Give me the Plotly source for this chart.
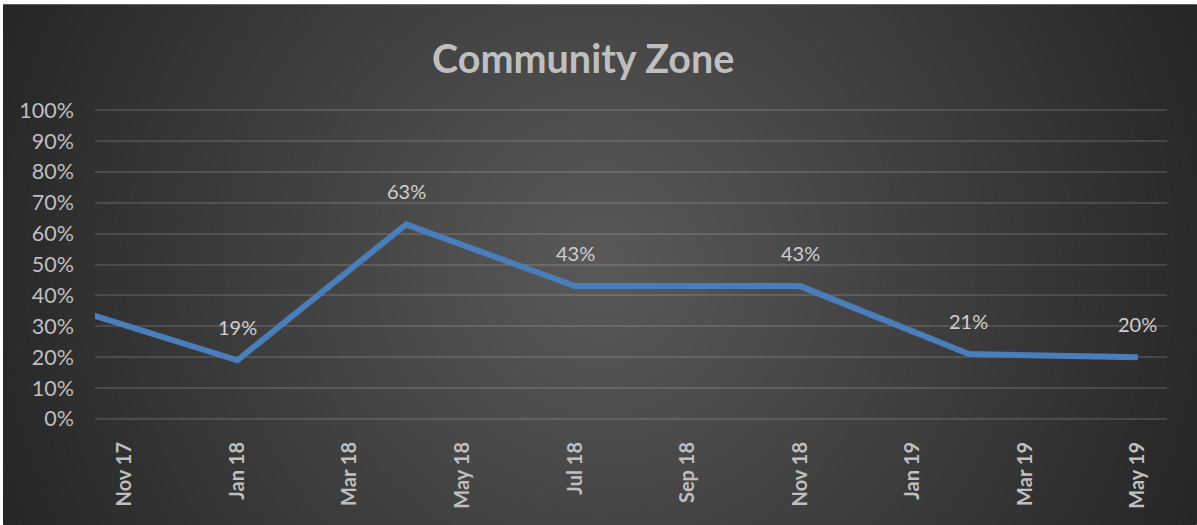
import plotly.graph_objects as go

# ---- data ----
months = ["2017-10", "2018-01", "2018-04", "2018-07", "2018-11", "2019-02", "2019-05"]
values = [0.36, 0.19, 0.63, 0.43, 0.43, 0.21, 0.20]
tick_months = ["2017-11", "2018-01", "2018-03", "2018-05", "2018-07", "2018-09",
               "2018-11", "2019-01", "2019-03", "2019-05"]
tick_labels = ["Nov 17", "Jan 18", "Mar 18", "May 18", "Jul 18", "Sep 18",
               "Nov 18", "Jan 19", "Mar 19", "May 19"]
y_ticks = [i / 10 for i in range(11)]
y_tick_labels = [f"{i * 10}%" for i in range(11)]
title_text = "Community Zone"


def month_index(s):
    y, m = s.split("-")
    return (int(y) - 2017) * 12 + int(m) - 11


x = [month_index(m) for m in months]
tickvals = [month_index(m) for m in tick_months]
x_range = [-0.53, 18.52]

W, H = 1197, 525
EXT = 0.01                      # small y-range padding so 0% / 100% grid lines show
UNIT = 309                      # pixels for 0..100%
L, R = 95, 30
T = 110 - UNIT * EXT
B = 106 - UNIT * EXT
PW, PH = W - L - R, H - T - B


def px2paper_x(px):
    return (px - L) / PW


def px2paper_y(py):
    return 1 - (py - T) / PH


# ---- background: radial gradient approximated by stacked circles ----
shapes = []
cx, cy = 600, 264.5
rmax = 651
N = 52
for i in range(N):
    frac = 1 - i / N
    r = rmax * frac
    g = int(round(90 - 52 * frac))
    col = f"rgb({g},{g},{g})"
    shapes.append(dict(type="circle", xref="paper", yref="paper",
                       x0=px2paper_x(cx - r), x1=px2paper_x(cx + r),
                       y0=px2paper_y(cy + r), y1=px2paper_y(cy - r),
                       fillcolor=col, line=dict(width=0), layer="below"))
# white outer strips (top and left)
shapes.append(dict(type="rect", xref="paper", yref="paper",
                   x0=px2paper_x(-5), x1=px2paper_x(W + 5),
                   y0=px2paper_y(4), y1=px2paper_y(-5),
                   fillcolor="white", line=dict(width=0), layer="below"))
shapes.append(dict(type="rect", xref="paper", yref="paper",
                   x0=px2paper_x(-5), x1=px2paper_x(3),
                   y0=px2paper_y(H + 5), y1=px2paper_y(-5),
                   fillcolor="white", line=dict(width=0), layer="below"))

FONT = "Lato, 'Open Sans', sans-serif"
TXT = "#bfbfbf"

fig = go.Figure()
fig.add_trace(go.Scatter(
    x=x, y=values, mode="lines",
    line=dict(color="#4a7ebb", width=6),
    hoverinfo="skip", showlegend=False,
))

annotations = []
for xi, v in zip(x, values):
    if x_range[0] <= xi <= x_range[1]:
        annotations.append(dict(
            x=xi, y=v, xref="x", yref="y", text=f"{round(v * 100)}%",
            showarrow=False, yshift=33,
            font=dict(family=FONT, size=20, color="#cfcfcf"),
        ))

annotations.append(dict(
    x=px2paper_x(583), y=px2paper_y(57), xref="paper", yref="paper",
    text=f"<b>{title_text}</b>", showarrow=False,
    xanchor="center", yanchor="middle",
    font=dict(family=FONT, size=39.5, color=TXT),
))

fig.update_layout(
    width=W, height=H,
    margin=dict(l=L, r=R, t=T, b=B, autoexpand=False),
    paper_bgcolor="white",
    plot_bgcolor="rgba(0,0,0,0)",
    shapes=shapes,
    annotations=annotations,
    xaxis=dict(
        range=x_range, tickmode="array", tickvals=tickvals,
        ticktext=[f"<b>{t}</b>" for t in tick_labels],
        tickangle=-90, showgrid=False, zeroline=False,
        showline=False, ticks="", ticklabelstandoff=int(round(12 + UNIT * EXT)),
        tickfont=dict(family=FONT, size=20, color=TXT),
    ),
    yaxis=dict(
        range=[-EXT, 1 + EXT], tickmode="array", tickvals=y_ticks,
        ticktext=y_tick_labels, showgrid=True,
        gridcolor="rgba(255,255,255,0.13)", gridwidth=1.5,
        zeroline=False, showline=False, ticks="", ticklabelstandoff=20,
        tickfont=dict(family=FONT, size=21.5, color=TXT),
    ),
)

fig.write_html("out.html", config={"displayModeBar": False},
               post_script="document.body.style.margin='0px';")
